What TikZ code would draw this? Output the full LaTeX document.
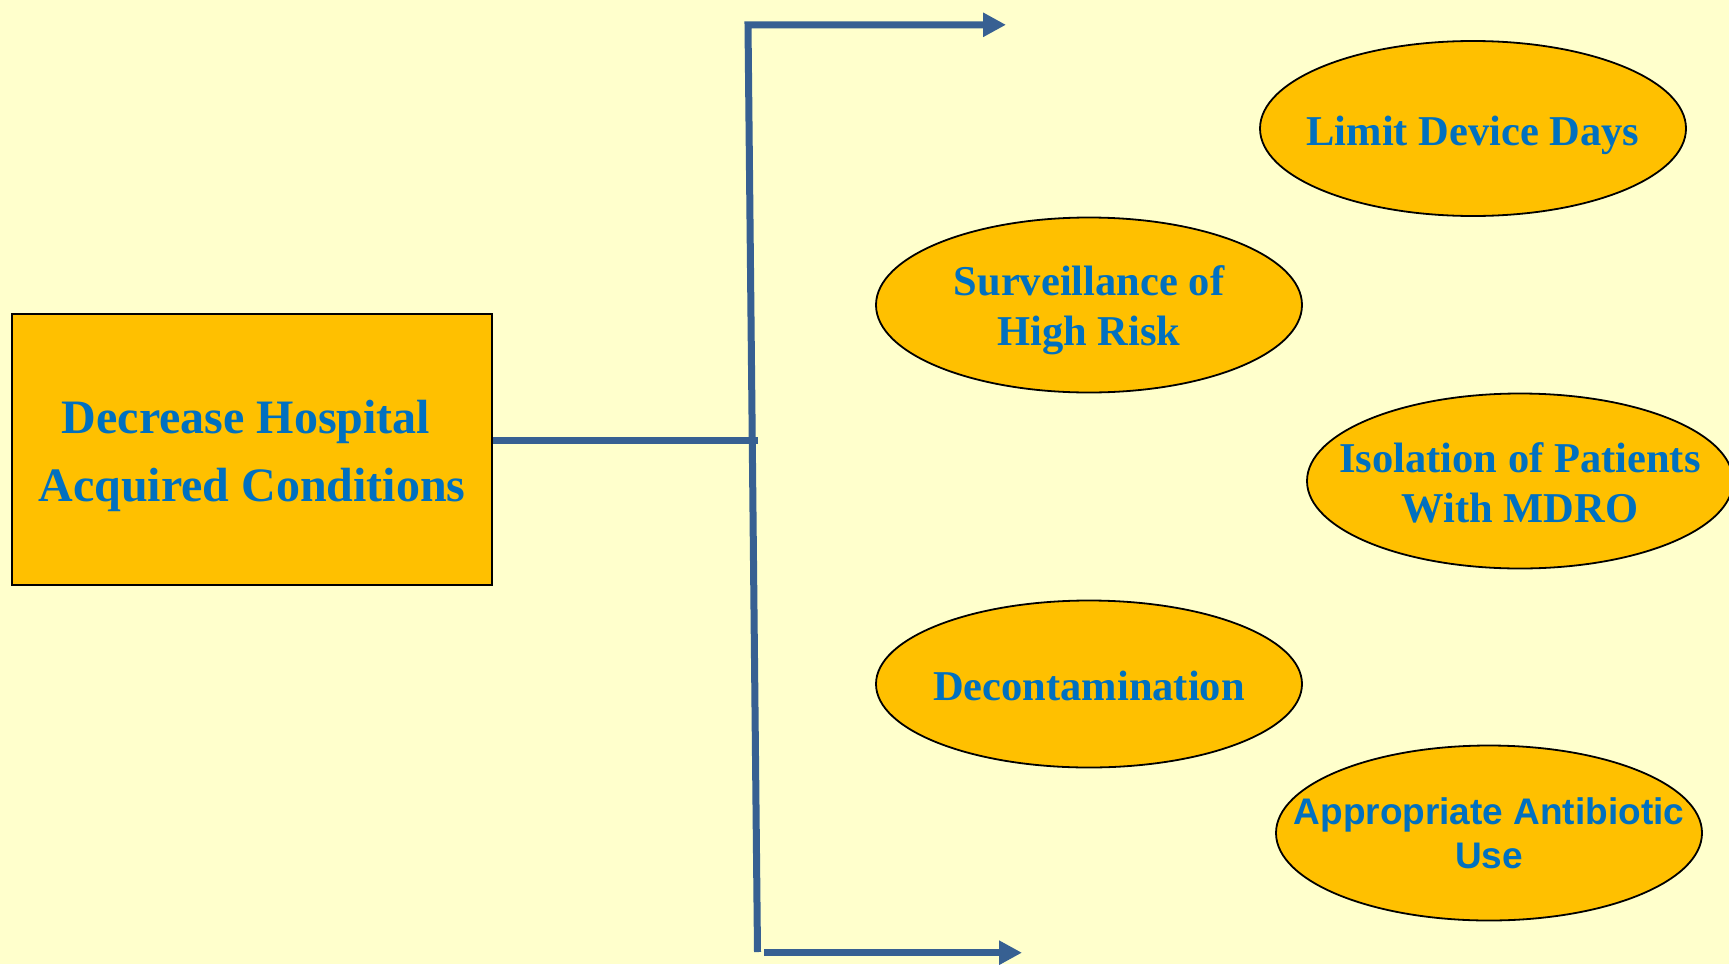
\documentclass[tikz,border=0pt]{standalone}
\usepackage{fontspec}
\setmainfont{Liberation Serif}
\setsansfont{Liberation Sans}
\usetikzlibrary{shapes.geometric,arrows.meta}
\definecolor{bgyellow}{HTML}{FFFFCC}
\definecolor{boxfill}{HTML}{FFC000}
\definecolor{txtblue}{HTML}{0070C0}
\definecolor{linkblue}{HTML}{376092}
\tikzset{
  goalbox/.style={rectangle, draw=black, line width=2pt, fill=boxfill,
    minimum width=480pt, minimum height=271pt, inner sep=0pt},
  goaltext/.style={text=txtblue, align=center, inner sep=0pt,
    font=\bfseries\fontsize{48}{68}\selectfont},
  measure/.style={ellipse, draw=black, line width=1.8pt, fill=boxfill,
    minimum width=426pt, minimum height=175pt, inner sep=0pt},
  measuretext/.style={text=txtblue, align=center, inner sep=0pt,
    font=\bfseries\fontsize{42.5}{50}\selectfont},
  link/.style={draw=linkblue, line width=7pt},
  linkarrow/.style={link, -{Triangle[length=23pt, width=23pt]}}
}
\begin{document}
\begin{tikzpicture}[x=1pt, y=-1pt]
  % page background
  \fill[bgyellow] (0,0) rectangle (1729,964);
  \useasboundingbox (0,0) rectangle (1729,964);

  % goal box
  \node[goalbox] (goal) at (252,449) {};
  \node[goaltext] (goalText) at (252,455.6)
    {Decrease Hospital\hspace*{12pt}\\Acquired Conditions};

  % measures
  \node[measure] (device) at (1473,128.5) {};
  \node[measuretext] (deviceText) at (1473,135) {Limit Device Days};

  \node[measure] (surv) at (1089,305) {};
  \node[measuretext] (survText) at (1089,310) {Surveillance of\\High Risk};

  \node[measure] (isol) at (1520,481) {};
  \node[measuretext] (isolText) at (1520,483.2) {Isolation of Patients\\With MDRO};

  \node[measure, minimum height=167pt] (decon) at (1089,684) {};
  \node[measuretext] (deconText) at (1089,686.2) {Decontamination};

  \node[measure] (abx) at (1489,833) {};
  \node[measuretext, font=\sffamily\bfseries\fontsize{37}{44}\selectfont]
    (abxText) at (1489,833.5) {Appropriate Antibiotic\\Use};

  % bracket connector
  \coordinate (spineTop) at (748,24.8);
  \coordinate (spineBot) at (757.5,952);
  \coordinate (spineMid) at (757.7,440.5);
  \coordinate (topTip) at (1006,24.8);
  \coordinate (botStart) at (764,952.7);
  \coordinate (botTip) at (1022,952.7);

  \draw[link] (goal.east |- spineMid) -- (spineMid);
  \draw[linkarrow] (spineBot) -- (spineTop) -- (topTip);
  \draw[linkarrow] (botStart) -- (botTip);
\end{tikzpicture}
\end{document}
